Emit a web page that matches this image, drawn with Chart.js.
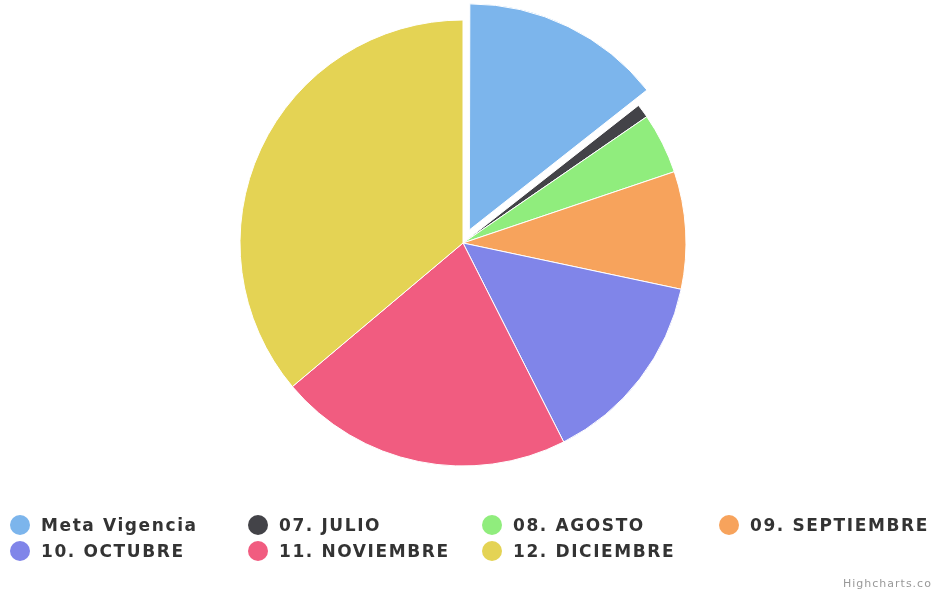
<!DOCTYPE html>
<html>
<head>
<meta charset="utf-8">
<script src="https://cdn.jsdelivr.net/npm/chart.js@4/dist/chart.umd.min.js"></script>
<style>
  html, body { margin: 0; padding: 0; background: #fff; overflow: hidden; }
  #wrap { position: relative; width: 936px; height: 595px; }
  #grafico { position: absolute; left: 0; top: 0; }
  #leyenda {
    position: absolute; left: 10px; top: 514px;
    display: grid; grid-template-columns: 238px 234px 237px 220px;
    row-gap: 4px;
    font-family: "DejaVu Sans", Verdana, sans-serif; font-weight: bold;
    font-size: 17px; letter-spacing: 1.6px; color: #333333;
  }
  .item { display: flex; align-items: center; height: 22px; white-space: nowrap; }
  .dot { width: 20px; height: 20px; border-radius: 50%; margin-right: 11px; flex: none; }
  #credito {
    position: absolute; left: 843px; top: 577px;
    font-family: "DejaVu Sans", Verdana, sans-serif; font-size: 11px;
    letter-spacing: 1px; color: #999999; white-space: nowrap;
  }
</style>
</head>
<body>
<div id="wrap">
  <canvas id="grafico" width="936" height="595"></canvas>
  <div id="leyenda"></div>
  <div id="credito">Highcharts.co</div>
</div>
<script>
// Pie: meta de la vigencia y avance por mes

var etiquetas = ["Meta Vigencia", "07. JULIO", "08. AGOSTO", "09. SEPTIEMBRE", "10. OCTUBRE", "11. NOVIEMBRE", "12. DICIEMBRE"];
var valores = [14.4, 1.0, 4.4, 8.5, 14.2, 21.3, 36.1];
var colores = ["#7cb5ec", "#434348", "#90ed7d", "#f7a35c", "#8085e9", "#f15c80", "#e4d354"];
var separados = [58, 0, 0, 0, 0, 0, 0];

var grafico = new Chart(document.getElementById("grafico"), {
  type: 'pie',
  data: {
    labels: etiquetas,
    datasets: [
      {
        label: "",
        backgroundColor: colores,
        borderColor: "#ffffff",
        borderWidth: 1,
        offset: separados,
        data: valores
      }
    ]
  },
  options: {
    responsive: false,
    animation: false,
    radius: 223,
    layout: { padding: { top: 0, left: 0, right: 10, bottom: 109 } },
    plugins: {
      legend: { display: false },
      tooltip: { enabled: false }
    }
  }
});

// leyenda en columnas, como la original
var leyenda = document.getElementById("leyenda");
grafico.data.labels.forEach(function (nombre, i) {
  var item = document.createElement("div");
  item.className = "item";
  var dot = document.createElement("span");
  dot.className = "dot";
  dot.style.background = colores[i];
  item.appendChild(dot);
  item.appendChild(document.createTextNode(nombre));
  leyenda.appendChild(item);
});
</script>
</body>
</html>
